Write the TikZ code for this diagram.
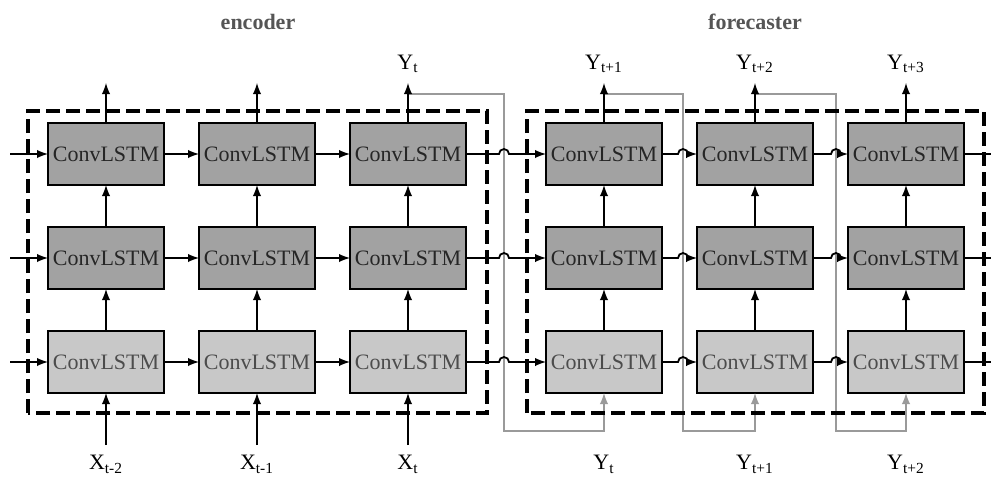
\documentclass[tikz,border=0pt]{standalone}
\usepackage{fontspec}
\setmainfont{Liberation Serif}
\usetikzlibrary{positioning,calc}
\definecolor{cellDark}{HTML}{A2A2A2}
\definecolor{cellLight}{HTML}{C8C8C8}
\definecolor{feedGray}{HTML}{9A9A9A}
\definecolor{titleGray}{HTML}{555555}

\begin{document}
\begin{tikzpicture}[x=0.5pt,y=0.5pt,
				cell/.style={draw,rectangle,line width=1.4pt,minimum width=58pt,minimum height=31pt,inner sep=0pt,outer sep=0pt,font=\fontsize{11}{13}\selectfont},
				deepcell/.style={cell,fill=cellDark,text=black!85},
				flatcell/.style={cell,fill=cellLight,text=black!70},
				dashframe/.style={line width=2.2pt,dash pattern=on 7pt off 3pt},
				link/.style={-latex,line width=0.9pt},
				feed/.style={-latex,line width=0.9pt,draw=feedGray},
				tag/.style={font=\fontsize{11}{13}\selectfont,inner sep=1pt},
				heading/.style={font=\bfseries\fontsize{11}{13}\selectfont,text=titleGray},
				node distance=21pt and 17.5pt]
				\useasboundingbox (0,0) rectangle (991,479);
				% bottom row
				\node[flatcell] (A1) at (106,117)      {ConvLSTM};
				\node[flatcell] (B1) [right=of A1]     {ConvLSTM};
				\node[flatcell] (C1) [right=of B1]     {ConvLSTM};
				\node[flatcell] (D1) [right=40pt of C1] {ConvLSTM};
				\node[flatcell] (E1) [right=of D1]     {ConvLSTM};
				\node[flatcell] (F1) [right=of E1]     {ConvLSTM};
				% middle row
				\node[deepcell] (A2) [above=of A1]     {ConvLSTM};
				\node[deepcell] (B2) [above=of B1]     {ConvLSTM};
				\node[deepcell] (C2) [above=of C1]     {ConvLSTM};
				\node[deepcell] (D2) [above=of D1]     {ConvLSTM};
				\node[deepcell] (E2) [above=of E1]     {ConvLSTM};
				\node[deepcell] (F2) [above=of F1]     {ConvLSTM};
				% top row
				\node[deepcell] (A3) [above=of A2]     {ConvLSTM};
				\node[deepcell] (B3) [above=of B2]     {ConvLSTM};
				\node[deepcell] (C3) [above=of C2]     {ConvLSTM};
				\node[deepcell] (D3) [above=of D2]     {ConvLSTM};
				\node[deepcell] (E3) [above=of E2]     {ConvLSTM};
				\node[deepcell] (F3) [above=of F2]     {ConvLSTM};
				
				\path (A3.north) ++(0,40) coordinate (A3out);
				\path (B3.north) ++(0,40) coordinate (B3out);
				\path (C3.north) ++(0,40) coordinate (C3out);
				\path (D3.north) ++(0,40) coordinate (D3out);
				\path (E3.north) ++(0,40) coordinate (E3out);
				\path (F3.north) ++(0,40) coordinate (F3out);
				\path (A1.south) ++(0,-52) coordinate (A1in);
				\path (B1.south) ++(0,-52) coordinate (B1in);
				\path (C1.south) ++(0,-52) coordinate (C1in);
				\path (D1.south) ++(0,-52) coordinate (D1in);
				\path (E1.south) ++(0,-52) coordinate (E1in);
				\path (F1.south) ++(0,-52) coordinate (F1in);
				\path (A1.west) ++(-38,0) coordinate (A1src);
				\path (A2.west) ++(-38,0) coordinate (A2src);
				\path (A3.west) ++(-38,0) coordinate (A3src);
				\path (F1.east) ++(28,0) coordinate (F1dst);
				\path (F2.east) ++(28,0) coordinate (F2dst);
				\path (F3.east) ++(28,0) coordinate (F3dst);
				
				\node[heading] (ENC)  at (258,457) {encoder};
				\node[heading] (FCST) at (755,457) {forecaster};
				\node[tag] (YA) [above=4pt of C3out] {Y\textsubscript{t}};
				\node[tag] (YB) [above=4pt of D3out] {Y\textsubscript{t+1}};
				\node[tag] (YC) [above=4pt of E3out] {Y\textsubscript{t+2}};
				\node[tag] (YD) [above=4pt of F3out] {Y\textsubscript{t+3}};
				\node[tag] (XA) [below=4pt of A1in]  {X\textsubscript{t-2}};
				\node[tag] (XB) [below=4pt of B1in]  {X\textsubscript{t-1}};
				\node[tag] (XC) [below=4pt of C1in]  {X\textsubscript{t}};
				\node[tag] (ZA) [below=4pt of D1in]  {Y\textsubscript{t}};
				\node[tag] (ZB) [below=4pt of E1in]  {Y\textsubscript{t+1}};
				\node[tag] (ZC) [below=4pt of F1in]  {Y\textsubscript{t+2}};
				
				% feedback of each prediction
				\draw[feed] ([shift={(0,29)}]C3.north) -| ([shift={(38,-38)}]C1.south east) -| (D1.south);
				\draw[feed] ([shift={(0,29)}]D3.north) -| ([shift={(21,-38)}]D1.south east) -| (E1.south);
				\draw[feed] ([shift={(0,29)}]E3.north) -| ([shift={(23,-38)}]E1.south east) -| (F1.south);
				
				\draw[dashframe] ([shift={(-20,-20)}]A1.south west) rectangle ([shift={(21,12)}]C3.north east);
				\draw[dashframe] ([shift={(-19,-20)}]D1.south west) rectangle ([shift={(20,12)}]F3.north east);
				
				\draw[link] (A1in) -- (A1.south);
				\draw[link] (B1in) -- (B1.south);
				\draw[link] (C1in) -- (C1.south);
				\draw[link] (A1src) -- (A1.west);
				\draw[link] (A2src) -- (A2.west);
				\draw[link] (A3src) -- (A3.west);
				\draw[line width=0.9pt] (F1.east) -- (F1dst) (F2.east) -- (F2dst) (F3.east) -- (F3dst);
				\draw[link] (A3.north) -- (A3out);
				\draw[link] (B3.north) -- (B3out);
				\draw[link] (C3.north) -- (C3out);
				\draw[link] (D3.north) -- (D3out);
				\draw[link] (E3.north) -- (E3out);
				\draw[link] (F3.north) -- (F3out);
				
				\draw[link] (A1) -- (B1);
				\draw[link] (B1) -- (C1);
				\draw[link] (A2) -- (B2);
				\draw[link] (B2) -- (C2);
				\draw[link] (A3) -- (B3);
				\draw[link] (B3) -- (C3);
				\draw[link] (A1) -- (A2);
				\draw[link] (A2) -- (A3);
				\draw[link] (B1) -- (B2);
				\draw[link] (B2) -- (B3);
				\draw[link] (C1) -- (C2);
				\draw[link] (C2) -- (C3);
				\draw[link] (D1) -- (D2);
				\draw[link] (D2) -- (D3);
				\draw[link] (E1) -- (E2);
				\draw[link] (E2) -- (E3);
				\draw[link] (F1) -- (F2);
				\draw[link] (F2) -- (F3);
				
				% hops over the feedback lines
				\draw[link] (C1.east) -- ++(33,0) arc(180:0:2.5pt) -- (D1.west);
				\draw[link] (C2.east) -- ++(33,0) arc(180:0:2.5pt) -- (D2.west);
				\draw[link] (C3.east) -- ++(33,0) arc(180:0:2.5pt) -- (D3.west);
				\draw[link] (D1.east) -- ++(16,0) arc(180:0:2.5pt) -- (E1.west);
				\draw[link] (D2.east) -- ++(16,0) arc(180:0:2.5pt) -- (E2.west);
				\draw[link] (D3.east) -- ++(16,0) arc(180:0:2.5pt) -- (E3.west);
				\draw[link] (E1.east) -- ++(18,0) arc(180:0:2.5pt) -- (F1.west);
				\draw[link] (E2.east) -- ++(18,0) arc(180:0:2.5pt) -- (F2.west);
				\draw[link] (E3.east) -- ++(18,0) arc(180:0:2.5pt) -- (F3.west);
			\end{tikzpicture}
\end{document}
